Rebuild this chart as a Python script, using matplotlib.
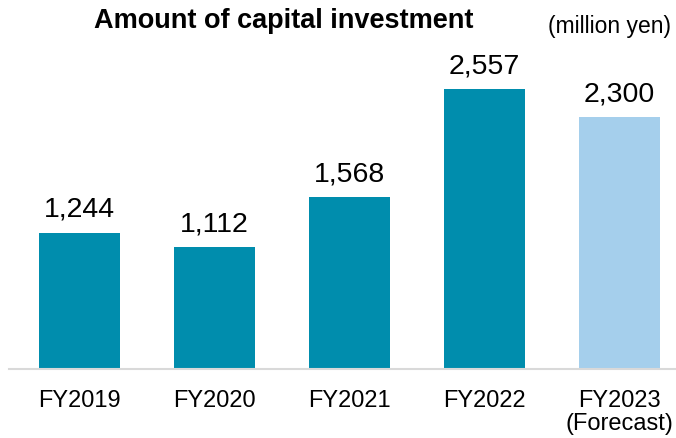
import matplotlib
matplotlib.use("Agg")
import matplotlib.pyplot as plt

categories = ["FY2019", "FY2020", "FY2021", "FY2022", "FY2023\n(Forecast)"]
values = [1244, 1112, 1568, 2557, 2300]
labels = ["1,244", "1,112", "1,568", "2,557", "2,300"]
colors = ["#008DAD", "#008DAD", "#008DAD", "#008DAD", "#A5CFEC"]

plt.rcParams['font.family'] = ['Liberation Sans', 'DejaVu Sans']

fig = plt.figure(figsize=(6.76, 4.38), dpi=100)
ax = fig.add_axes([9/676, (438-369)/438, 1-9/676, 329/438])
x = range(len(categories))
ax.bar(x, values, width=0.6, color=colors)
ax.set_xlim(-0.52, 4.42)
ax.set_ylim(0, 329/0.1095)
for xi, v, l in zip(x, values, labels):
    ax.annotate(l, (xi, v), xytext=(0, 11.5), textcoords="offset points",
                ha="center", va="baseline", fontsize=20.5, color="#000000")
ax.set_xticks(list(x))
ax.set_xticklabels(categories, fontsize=17, linespacing=1.05)
ax.tick_params(axis="x", length=0, pad=15)
ax.set_yticks([])
for s in ["top", "right", "left"]:
    ax.spines[s].set_visible(False)
ax.spines["bottom"].set_color("#D9D9D9")
ax.spines["bottom"].set_linewidth(1.5)

fig.text(284/676, 1-21/438, "Amount of capital investment", ha="center", va="center",
         fontsize=19.5, fontweight="bold")
fig.text(609/676, 1-26/438, "(million yen)", ha="center", va="center", fontsize=16.5)

fig.savefig("out.png", dpi=100)
